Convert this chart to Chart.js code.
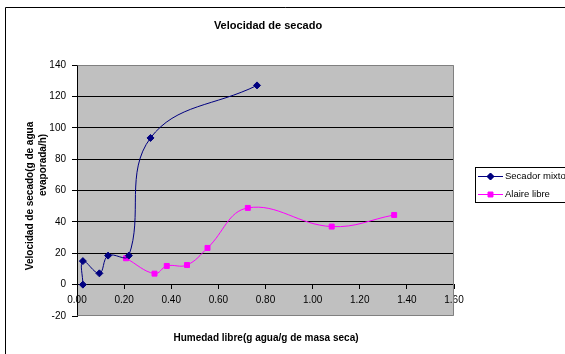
<!DOCTYPE html>
<html>
<head>
<meta charset="utf-8">
<script src="https://cdn.jsdelivr.net/npm/chart.js@4/dist/chart.umd.min.js"></script>
<style>
  html, body { margin: 0; padding: 0; background: #fff; }
  canvas { display: block; }
</style>
</head>
<body>
<canvas id="c" width="565" height="354"></canvas>
<script>
// Drying-rate curves: free moisture (x) vs. drying rate (y)
const mixtoX = [0.025, 0.025, 0.095, 0.132, 0.220, 0.312, 0.764];
const mixtoY = [0, 15, 7.2, 18.5, 18.5, 93.5, 127];
const libreX = [0.208, 0.329, 0.381, 0.467, 0.554, 0.725, 1.081, 1.346];
const libreY = [16.8, 7, 11.9, 12.5, 23.4, 48.9, 37, 44.4];

const seriesNames = ['Secador mixto', 'Alaire libre'];
const yTicks = [-20, 0, 20, 40, 60, 80, 100, 120, 140];
const xTicks = [0, 0.2, 0.4, 0.6, 0.8, 1.0, 1.2, 1.4, 1.6];

const chartTitle = 'Velocidad de secado';
const xTitle = 'Humedad libre(g agua/g de masa seca)';
const yTitleLines = ['Velocidad de secado(g de agua', 'evaporada/h)'];

const NAVY = '#000080';
const MAGENTA = '#FF00FF';
const FONT = '"Liberation Sans", Arial, sans-serif';

const toPoints = (xs, ys) => xs.map((x, i) => ({ x, y: ys[i] }));

// Background, frame, titles and legend box
const decor = {
  id: 'decor',
  beforeDraw(chart) {
    const { ctx, chartArea: a } = chart;
    ctx.save();
    ctx.fillStyle = '#fff';
    ctx.fillRect(0, 0, chart.width, chart.height);
    ctx.strokeStyle = '#000';
    ctx.lineWidth = 1;
    ctx.beginPath();
    ctx.moveTo(5.5, chart.height);
    ctx.lineTo(5.5, 7.5);
    ctx.lineTo(chart.width, 7.5);
    ctx.stroke();
    ctx.fillStyle = '#C0C0C0';
    ctx.fillRect(a.left, a.top, a.right - a.left, a.bottom - a.top);
    ctx.restore();
  },
  afterDatasetsDraw(chart) {
    const { ctx, chartArea: a } = chart;
    ctx.save();
    ctx.strokeStyle = '#808080';
    ctx.lineWidth = 1;
    ctx.beginPath();
    ctx.moveTo(Math.round(a.left) + 0.5, Math.round(a.top) + 0.5);
    ctx.lineTo(Math.round(a.right) - 0.5, Math.round(a.top) + 0.5);
    ctx.lineTo(Math.round(a.right) - 0.5, Math.round(a.bottom) - 0.5);
    ctx.lineTo(Math.round(a.left) + 0.5, Math.round(a.bottom) - 0.5);
    ctx.stroke();

    ctx.fillStyle = '#000';
    ctx.textAlign = 'center';
    ctx.textBaseline = 'middle';
    ctx.font = 'bold 11px ' + FONT;
    ctx.fillText(chartTitle, 268, 26);
    ctx.font = 'bold 10px ' + FONT;
    ctx.fillText(xTitle, 266, 338);

    ctx.save();
    ctx.translate(30, 196);
    ctx.rotate(-Math.PI / 2);
    ctx.fillText(yTitleLines[0], 0, 0);
    ctx.restore();
    ctx.save();
    ctx.translate(43, 165);
    ctx.rotate(-Math.PI / 2);
    ctx.fillText(yTitleLines[1], 0, 0);
    ctx.restore();

    // legend
    const lx = 475.5, ly = 167.5, lw = 100, lh = 35;
    ctx.fillStyle = '#fff';
    ctx.fillRect(lx, ly, lw, lh);
    ctx.strokeStyle = '#000';
    ctx.strokeRect(lx, ly, lw, lh);
    const rows = [
      { y: 176, color: NAVY, style: 'rectRot' },
      { y: 194, color: MAGENTA, style: 'rect' }
    ];
    rows.forEach((r, i) => {
      ctx.strokeStyle = r.color;
      ctx.lineWidth = 1;
      ctx.beginPath();
      ctx.moveTo(478, r.y + 0.5);
      ctx.lineTo(503, r.y + 0.5);
      ctx.stroke();
      ctx.fillStyle = r.color;
      Chart.helpers.drawPoint(ctx, { pointStyle: r.style, radius: 3.5, borderWidth: 1 }, 490.5, r.y + 0.5);
      ctx.fill();
      ctx.fillStyle = '#000';
      ctx.textAlign = 'left';
      ctx.font = '9.5px ' + FONT;
      ctx.fillText(seriesNames[i], 505, r.y + 0.5);
    });
    ctx.restore();
  }
};

new Chart(document.getElementById('c'), {
  type: 'scatter',
  data: {
    datasets: [
      {
        label: seriesNames[0],
        data: toPoints(mixtoX, mixtoY),
        showLine: true,
        tension: 0.4,
        borderColor: NAVY,
        backgroundColor: NAVY,
        borderWidth: 1,
        pointStyle: 'rectRot',
        pointRadius: 3.5,
        pointBorderWidth: 1
      },
      {
        label: seriesNames[1],
        data: toPoints(libreX, libreY),
        showLine: true,
        tension: 0.4,
        borderColor: MAGENTA,
        backgroundColor: MAGENTA,
        borderWidth: 1,
        pointStyle: 'rect',
        pointRadius: 3.5,
        pointBorderWidth: 1
      }
    ]
  },
  options: {
    responsive: false,
    animation: false,
    layout: { padding: { left: 5, top: 65, right: 111, bottom: 38 } },
    plugins: { legend: { display: false }, tooltip: { enabled: false }, title: { display: false } },
    scales: {
      x: {
        type: 'linear',
        position: { y: 0 },
        min: xTicks[0],
        max: xTicks[xTicks.length - 1],
        afterBuildTicks: (s) => { s.ticks = xTicks.map(v => ({ value: v })); },
        ticks: {
          autoSkip: false,
          maxRotation: 0,
          padding: 6,
          color: '#000',
          font: { family: FONT, size: 10 },
          callback: (v) => Number(v).toFixed(2)
        },
        grid: { drawOnChartArea: false, drawTicks: true, tickLength: 4, color: '#000' },
        border: { color: '#000', width: 1 }
      },
      y: {
        type: 'linear',
        position: 'left',
        min: yTicks[0],
        max: yTicks[yTicks.length - 1],
        afterBuildTicks: (s) => { s.ticks = yTicks.map(v => ({ value: v })); },
        afterFit: (s) => { s.width = 72; },
        ticks: {
          padding: 6,
          color: '#000',
          font: { family: FONT, size: 10 },
          callback: (v) => String(v)
        },
        grid: {
          drawTicks: true,
          tickLength: 5,
          color: (c) => (c.tick && (c.tick.value === 140 || c.tick.value === -20)) ? 'rgba(0,0,0,0)' : '#000',
          tickColor: '#000'
        },
        border: { color: '#000', width: 1 }
      }
    }
  },
  plugins: [decor]
});
</script>
</body>
</html>
